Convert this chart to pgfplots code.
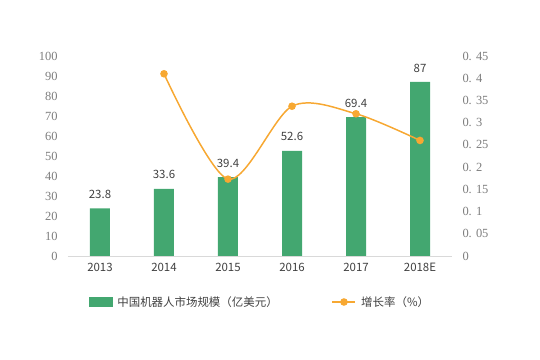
\documentclass[border=0pt]{standalone}
\usepackage{fontspec}
\setmainfont{Noto Sans CJK SC}
\newfontfamily\tickfont{Liberation Serif}
\usepackage{pgfplots}
\pgfplotsset{compat=1.18}
\definecolor{barg}{RGB}{67,167,112}
\definecolor{lineo}{RGB}{247,168,50}
\definecolor{tickgray}{RGB}{125,125,125}
\definecolor{txt}{RGB}{64,64,64}
\definecolor{axgray}{RGB}{217,217,217}
\begin{document}
\begin{tikzpicture}
\path[use as bounding box] (-68bp,-104bp) rectangle (472bp,256bp);
\begin{axis}[
  scale only axis, width=384bp, height=200bp,
  xmin=-0.5, xmax=5.5, ymin=0, ymax=100,
  axis x line*=bottom, axis y line*=left,
  y axis line style={draw=none},
  x axis line style={draw=axgray, line width=0.8pt, -},
  major tick length=0pt,
  xtick={0,1,2,3,4,5},
  xticklabels={2013,2014,2015,2016,2017,2018E},
  xticklabel style={font=\fontsize{11.5}{12}\selectfont, text=txt, yshift=-4bp},
  ytick={0,10,...,100},
  yticklabels={0,10,20,30,40,50,60,70,80,90,100},
  yticklabel style={font=\tickfont\fontsize{12.5}{13}\selectfont, text=tickgray, xshift=-7bp},
  point meta=explicit symbolic,
  nodes near coords,
  nodes near coords style={font=\fontsize{11.5}{12}\selectfont, text=txt, anchor=center, yshift=14bp},
  clip=false,
]
\addplot[ybar, bar width=20bp, fill=barg, draw=none] coordinates {
  (0,23.8)[23.8] (1,33.6)[33.6] (2,39.4)[39.4] (3,52.6)[52.6] (4,69.4)[69.4] (5,87)[87]
};
\end{axis}
\begin{axis}[
  scale only axis, width=384bp, height=200bp,
  xmin=-0.5, xmax=5.5, ymin=0, ymax=0.45,
  axis x line=none, axis y line*=right,
  y axis line style={draw=none},
  major tick length=0pt,
  ytick={0,0.05,0.1,0.15,0.2,0.25,0.3,0.35,0.4,0.45},
  yticklabels={0,0. 05,0. 1,0. 15,0. 2,0. 25,0. 3,0. 35,0. 4,0. 45},
  yticklabel style={font=\tickfont\fontsize{12.5}{13}\selectfont, text=tickgray, anchor=west, xshift=7bp},
  clip=false,
  legend columns=2,
  legend style={at={(0.5,-0.23)}, anchor=center, draw=none, fill=none,
    font=\fontsize{11.5}{12}\selectfont, text=txt,
    /tikz/every odd column/.append style={column sep=3bp},
    /tikz/every even column/.append style={column sep=52bp}},
]
\addlegendimage{legend image code/.code={\fill[barg] (0bp,-4.5bp) rectangle (23bp,4.5bp);}}
\addlegendentry{中国机器人市场规模（亿美元）}
\addplot[lineo, line width=1.5pt, smooth, mark=*, mark size=3bp,
  mark options={fill=lineo, draw=lineo},
  legend image code/.code={\draw[lineo,line width=1.5pt] (0bp,0bp)--(23bp,0bp); \fill[lineo] (11.5bp,0bp) circle (3bp);}]
  coordinates {(1,0.41) (2,0.173) (3,0.337) (4,0.32) (5,0.26)};
\addlegendentry{增长率（\%）}
\end{axis}
\end{tikzpicture}
\end{document}
